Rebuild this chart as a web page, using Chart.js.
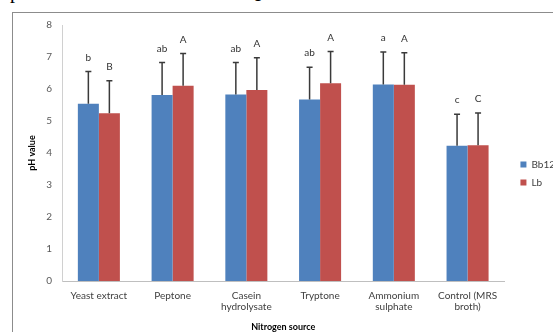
<!DOCTYPE html>
<html>
<head>
<meta charset="utf-8">
<script src="https://cdn.jsdelivr.net/npm/chart.js@4"></script>
<style>
  html, body { margin: 0; padding: 0; background: #fff; overflow: hidden; }
  body { width: 553px; height: 332px; position: relative; }
  .frag { position: absolute; font-family: "Liberation Serif", serif; font-size: 20px; line-height: 20px; color: #000; }
  #box { position: absolute; left: 12px; top: 12px; width: 600px; height: 400px; border: 1.5px solid #8c8c8c; }
  #wrap { position: absolute; left: 0; top: 0; width: 565px; height: 332px; }
</style>
</head>
<body>
<span class="frag" style="left:10px; top:-19px;">p</span>
<span class="frag" style="left:253px; top:-16px;">e</span>
<div id="box"></div>
<div id="wrap"><canvas id="grafico" width="565" height="332"></canvas></div>
<script>
// datos
const fuentes = ['Yeast extract', 'Peptone', ['Casein', 'hydrolysate'], 'Tryptone', ['Ammonium', 'sulphate'], ['Control (MRS', 'broth)']];
const bb12 = [5.54, 5.81, 5.83, 5.67, 6.14, 4.23];
const lb = [5.24, 6.10, 5.97, 6.18, 6.13, 4.24];
const bb12Err = [1.01, 1.02, 1.00, 1.01, 1.02, 0.98];
const lbErr = [1.02, 1.01, 1.01, 0.99, 1.00, 1.01];
const bb12Letras = ['b', 'ab', 'ab', 'ab', 'a', 'c'];
const lbLetras = ['B', 'A', 'A', 'A', 'A', 'C'];
const ticksY = [0, 1, 2, 3, 4, 5, 6, 7, 8];

const fuente = 'Lato, "Open Sans", sans-serif';

const barrasError = {
  id: 'barrasError',
  afterDatasetsDraw(chart) {
    const ctx = chart.ctx;
    const y = chart.scales.y;
    chart.data.datasets.forEach((ds, i) => {
      const meta = chart.getDatasetMeta(i);
      meta.data.forEach((bar, j) => {
        const top = y.getPixelForValue(ds.data[j] + ds.errores[j]);
        ctx.save();
        ctx.strokeStyle = '#3a3a3a';
        ctx.lineWidth = 1.5;
        ctx.beginPath();
        ctx.moveTo(bar.x, bar.y);
        ctx.lineTo(bar.x, top);
        ctx.moveTo(bar.x - 3, top);
        ctx.lineTo(bar.x + 3, top);
        ctx.stroke();
        ctx.fillStyle = '#333';
        ctx.font = '10px ' + fuente;
        ctx.textAlign = 'center';
        ctx.textBaseline = 'middle';
        ctx.fillText(ds.letras[j], bar.x, top - 14);
        ctx.restore();
      });
    });
  }
};

new Chart(document.getElementById('grafico'), {
  type: 'bar',
  data: {
    labels: fuentes,
    datasets: [
      { label: 'Bb12', data: bb12, errores: bb12Err, letras: bb12Letras, backgroundColor: '#4F81BD' },
      { label: 'Lb', data: lb, errores: lbErr, letras: lbLetras, backgroundColor: '#C0504D' }
    ]
  },
  options: {
    responsive: false,
    animation: false,
    devicePixelRatio: 1,
    layout: { padding: { left: 14, top: 25, right: 0, bottom: 0 } },
    datasets: { bar: { categoryPercentage: 0.57, barPercentage: 1.0 } },
    plugins: {
      tooltip: { enabled: false },
      legend: {
        position: 'right',
        fullSize: false,
        title: { display: true, text: '', padding: { top: 29, bottom: 0 }, font: { size: 10, family: fuente } },
        labels: { boxWidth: 6, boxHeight: 6, padding: 8, color: '#404040', font: { size: 10, family: fuente } }
      }
    },
    scales: {
      x: {
        grid: { display: false, drawTicks: false },
        border: { display: true, color: '#bfbfbf', width: 1 },
        ticks: { color: '#404040', padding: 9, maxRotation: 0, autoSkip: false, font: { size: 10, family: fuente, lineHeight: 1.15 } },
        title: { display: true, text: 'Nitrogen source', color: '#000', padding: { top: 0, bottom: 0 }, font: { size: 9, weight: 'bold', family: fuente } },
        afterFit(s) { s.height = 51; }
      },
      y: {
        min: 0,
        max: 8,
        afterBuildTicks(s) { s.ticks = ticksY.map(v => ({ value: v })); },
        grid: { display: false, drawTicks: false },
        border: { display: true, color: '#d0d0d0', width: 1 },
        ticks: { color: '#595959', padding: 10, font: { size: 10, family: fuente } },
        title: { display: true, text: 'pH value', color: '#000', padding: { top: 13, bottom: 0 }, font: { size: 9, weight: 'bold', family: fuente } },
        afterFit(s) { s.width = 48; }
      },
      hueco: {
        position: 'right',
        display: true,
        grid: { display: false, drawTicks: false },
        border: { display: false },
        ticks: { display: false },
        afterFit(s) { s.width = 8; }
      }
    }
  },
  plugins: [barrasError]
});
</script>
</body>
</html>
